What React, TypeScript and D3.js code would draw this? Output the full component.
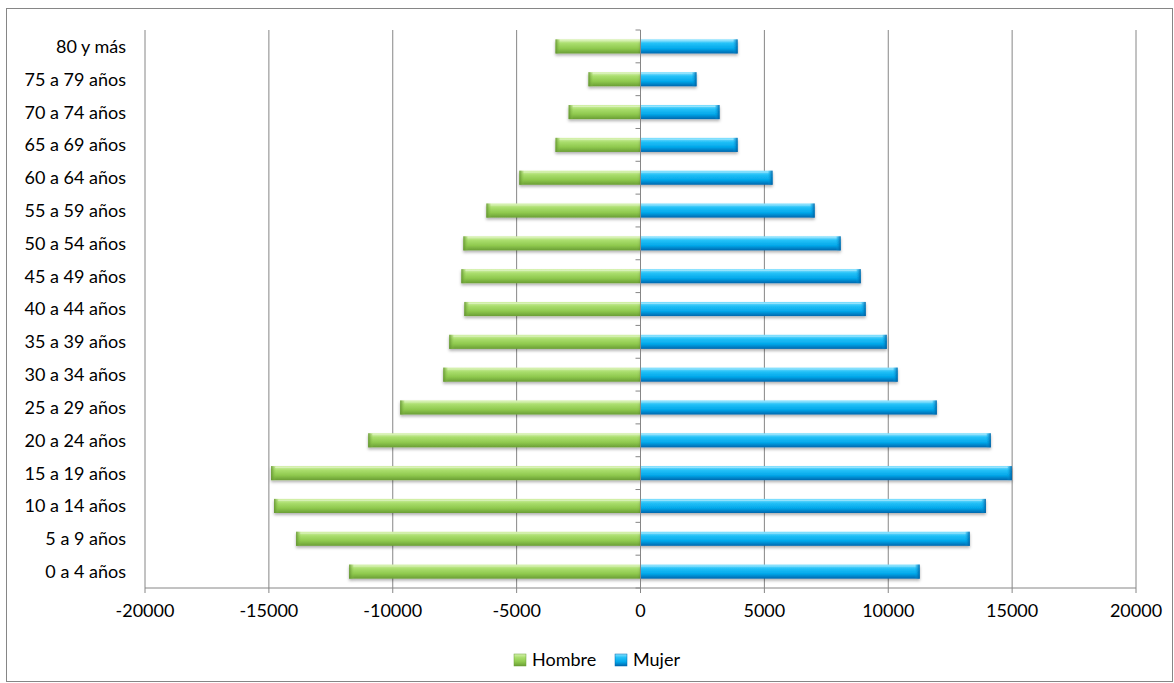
import React from "react";
import * as d3 from "d3";

const categories = [
  "80 y más",
  "75 a 79 años",
  "70 a 74 años",
  "65 a 69 años",
  "60 a 64 años",
  "55 a 59 años",
  "50 a 54 años",
  "45 a 49 años",
  "40 a 44 años",
  "35 a 39 años",
  "30 a 34 años",
  "25 a 29 años",
  "20 a 24 años",
  "15 a 19 años",
  "10 a 14 años",
  "5 a 9 años",
  "0 a 4 años",
];
const hombre = [-3430, -2100, -2900, -3430, -4890, -6220, -7150, -7230, -7110, -7720, -7960, -9700, -10990, -14910, -14790, -13900, -11760];
const mujer = [3920, 2260, 3190, 3920, 5330, 7030, 8080, 8890, 9090, 9940, 10380, 11960, 14140, 14990, 13940, 13290, 11270];
const xTicks = [-20000, -15000, -10000, -5000, 0, 5000, 10000, 15000, 20000];
const seriesNames = ["Hombre", "Mujer"];

const W = 1174;
const H = 683;
const FONT = "Lato, 'Open Sans', sans-serif";
const GRID = "#868686";

export default function App() {
  const left = 145, right = 1136, top = 30, bottom = 588;
  const x = d3.scaleLinear().domain([-20000, 20000]).range([left, right]);
  const y = d3.scaleBand<string>().domain(categories).range([top, bottom]).paddingInner(0.57).paddingOuter(0.285);
  const bh = y.bandwidth();
  const step = y.step();
  const x0 = x(0);

  const bar = (v: number, i: number, key: string) => {
    const yy = y(categories[i])!;
    const xa = Math.min(x0, x(v));
    const xb = Math.max(x0, x(v));
    const w = xb - xa;
    const isLeft = v < 0;
    const id = key === "h" ? "gH" : "gM";
    const endX = isLeft ? xa : xb - 5;
    return (
      <g key={key + i} filter="url(#sh)">
        <rect x={xa} y={yy} width={w} height={bh} fill={`url(#${id})`} />
        <rect x={endX} y={yy} width={5} height={bh} fill={`url(#${id}E${isLeft ? "L" : "R"})`} />
        <line x1={xa + (isLeft ? 4 : 0)} x2={xb - (isLeft ? 0 : 4)} y1={yy + 1.5} y2={yy + 1.5} stroke="#ffffff" strokeOpacity={0.35} strokeWidth={1} />
      </g>
    );
  };

  const bandEdges = d3.range(categories.length + 1).map((k) => top + k * step);

  return (
    <svg width={W} height={H} style={{ position: "absolute", left: 0, top: 0, background: "#fff" }}>
      <defs>
        <linearGradient id="gH" x1="0" y1="0" x2="0" y2="1">
          <stop offset="0" stopColor="#d6f2ad" />
          <stop offset="0.3" stopColor="#a9dd6c" />
          <stop offset="0.65" stopColor="#8fc94e" />
          <stop offset="1" stopColor="#6a9e35" />
        </linearGradient>
        <linearGradient id="gM" x1="0" y1="0" x2="0" y2="1">
          <stop offset="0" stopColor="#86e2ff" />
          <stop offset="0.3" stopColor="#22c0f7" />
          <stop offset="0.65" stopColor="#03a8ea" />
          <stop offset="1" stopColor="#0067ae" />
        </linearGradient>
        <linearGradient id="gHEL" x1="0" y1="0" x2="1" y2="0">
          <stop offset="0" stopColor="#5f8f2e" stopOpacity={0.9} />
          <stop offset="1" stopColor="#8fc94e" stopOpacity={0} />
        </linearGradient>
        <linearGradient id="gMER" x1="1" y1="0" x2="0" y2="0">
          <stop offset="0" stopColor="#005a9c" stopOpacity={0.9} />
          <stop offset="1" stopColor="#03a8ea" stopOpacity={0} />
        </linearGradient>
        <linearGradient id="gHER" x1="1" y1="0" x2="0" y2="0">
          <stop offset="0" stopColor="#5f8f2e" stopOpacity={0.9} />
          <stop offset="1" stopColor="#8fc94e" stopOpacity={0} />
        </linearGradient>
        <linearGradient id="gMEL" x1="0" y1="0" x2="1" y2="0">
          <stop offset="0" stopColor="#005a9c" stopOpacity={0.9} />
          <stop offset="1" stopColor="#03a8ea" stopOpacity={0} />
        </linearGradient>
        <filter id="sh" x="-5%" y="-50%" width="110%" height="200%">
          <feDropShadow dx="0" dy="2" stdDeviation="1.5" floodColor="#000" floodOpacity="0.3" />
        </filter>
      </defs>

      <rect x={6.5} y={8.5} width={W - 8} height={H - 10} fill="#fff" stroke={GRID} strokeWidth={1} />

      {/* gridlines */}
      {xTicks.filter((t) => t !== 0).map((t) => (
        <line key={"g" + t} x1={x(t)} x2={x(t)} y1={top} y2={bottom} stroke={GRID} strokeWidth={1} />
      ))}

      {/* x axis */}
      <line x1={left} x2={right} y1={bottom} y2={bottom} stroke={GRID} strokeWidth={1} />
      {xTicks.map((t) => (
        <g key={"t" + t}>
          <line x1={x(t)} x2={x(t)} y1={bottom} y2={bottom + 5} stroke={GRID} strokeWidth={1} />
          <text x={x(t)} y={bottom + 29} textAnchor="middle" fontFamily={FONT} fontSize={18} fill="#000">
            {t}
          </text>
        </g>
      ))}

      {/* bars */}
      {hombre.map((v, i) => bar(v, i, "h"))}
      {mujer.map((v, i) => bar(v, i, "m"))}

      {/* y axis */}
      <line x1={x0} x2={x0} y1={top} y2={bottom + 5} stroke={GRID} strokeWidth={1} />
      {bandEdges.map((e, k) => (
        <line key={"yt" + k} x1={x0 - 5} x2={x0} y1={e} y2={e} stroke={GRID} strokeWidth={1} />
      ))}
      {categories.map((c) => (
        <text key={c} x={126} y={y(c)! + bh / 2} dy="0.36em" textAnchor="end" fontFamily={FONT} fontSize={18} fill="#000">
          {c}
        </text>
      ))}

      {/* legend */}
      <g>
        <rect x={514} y={654} width={12} height={12} fill="url(#gH)" stroke="#6a9e35" strokeWidth={0.5} />
        <text x={532} y={660} dy="0.36em" fontFamily={FONT} fontSize={18} fill="#000">{seriesNames[0]}</text>
        <rect x={615} y={654} width={12} height={12} fill="url(#gM)" stroke="#0067ae" strokeWidth={0.5} />
        <text x={633} y={660} dy="0.36em" fontFamily={FONT} fontSize={18} fill="#000">{seriesNames[1]}</text>
      </g>
    </svg>
  );
}
